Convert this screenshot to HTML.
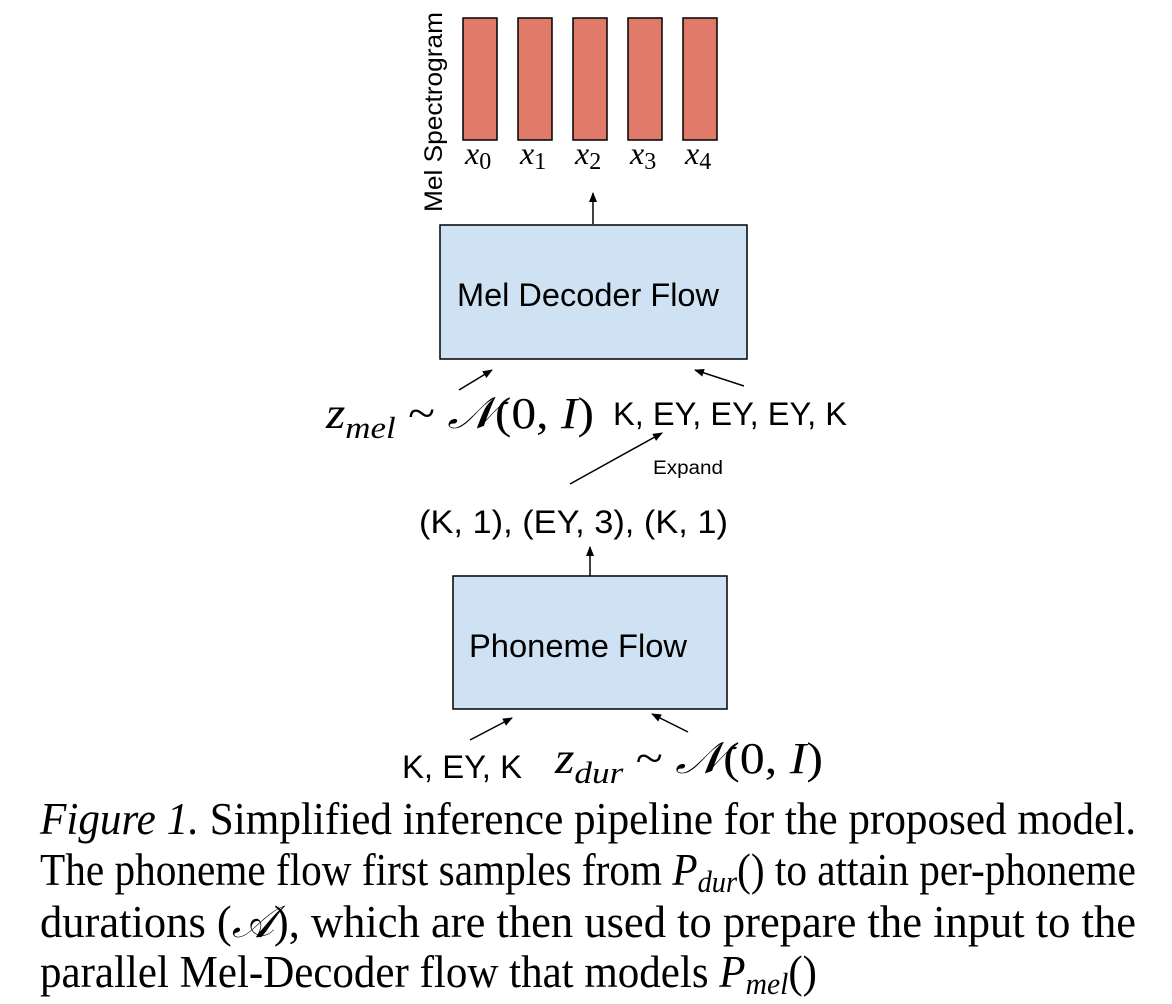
<!DOCTYPE html>
<html><head><meta charset="utf-8"><style>
html,body{margin:0;padding:0;background:#fff;}
svg{display:block;}
.sans{font-family:"Liberation Sans",sans-serif;fill:#000;}
.serif{font-family:"Liberation Serif",serif;fill:#000;}
.it{font-style:italic;}
</style></head><body>
<svg width="1172" height="1004" viewBox="0 0 1172 1004">
<defs><marker id="ah" markerWidth="10" markerHeight="8" refX="9" refY="4" orient="auto" markerUnits="userSpaceOnUse"><path d="M0,0 L10,4 L0,8 z" fill="#000"/></marker></defs>
<g id="bars"></g>
<text class="sans" font-size="25" textLength="200" lengthAdjust="spacingAndGlyphs" transform="translate(442,212) rotate(-90)">Mel Spectrogram</text>
<line x1="593" y1="224" x2="593" y2="193" stroke="#000" stroke-width="1.5" marker-end="url(#ah)"/>
<rect x="440" y="225" width="307" height="134" fill="#cfe2f3" stroke="#000" stroke-width="1.5"/>
<text class="sans" x="457" y="306" font-size="32" textLength="262" lengthAdjust="spacingAndGlyphs">Mel Decoder Flow</text>
<line x1="459" y1="390" x2="492" y2="370" stroke="#000" stroke-width="1.5" marker-end="url(#ah)"/>
<line x1="744" y1="386" x2="695" y2="370" stroke="#000" stroke-width="1.5" marker-end="url(#ah)"/>
<text class="serif" x="326" y="428" font-size="44" textLength="268" lengthAdjust="spacingAndGlyphs"><tspan class="it">z</tspan><tspan class="it" font-size="31" dy="10">mel</tspan><tspan dy="-10"> ~ </tspan><tspan class="it">𝒩</tspan>(0, <tspan class="it">I</tspan>)</text>
<text class="sans" x="613" y="425" font-size="32" textLength="234" lengthAdjust="spacingAndGlyphs">K, EY, EY, EY, K</text>
<line x1="570" y1="484" x2="662" y2="433" stroke="#000" stroke-width="1.5" marker-end="url(#ah)"/>
<text class="sans" x="653" y="474" font-size="19" textLength="70" lengthAdjust="spacingAndGlyphs">Expand</text>
<text class="sans" x="419" y="533" font-size="32" textLength="309" lengthAdjust="spacingAndGlyphs">(K, 1), (EY, 3), (K, 1)</text>
<line x1="590" y1="576" x2="590" y2="547" stroke="#000" stroke-width="1.5" marker-end="url(#ah)"/>
<rect x="453" y="576" width="274" height="133" fill="#cfe2f3" stroke="#000" stroke-width="1.5"/>
<text class="sans" x="469" y="657" font-size="32" textLength="218" lengthAdjust="spacingAndGlyphs">Phoneme Flow</text>
<line x1="470" y1="740" x2="512" y2="718" stroke="#000" stroke-width="1.5" marker-end="url(#ah)"/>
<line x1="688" y1="732" x2="652" y2="714" stroke="#000" stroke-width="1.5" marker-end="url(#ah)"/>
<text class="sans" x="402" y="778" font-size="32" textLength="120" lengthAdjust="spacingAndGlyphs">K, EY, K</text>
<text class="serif" x="555" y="773" font-size="44" textLength="268" lengthAdjust="spacingAndGlyphs"><tspan class="it">z</tspan><tspan class="it" font-size="31" dy="10">dur</tspan><tspan dy="-10"> ~ </tspan><tspan class="it">𝒩</tspan>(0, <tspan class="it">I</tspan>)</text>
<g class="serif" font-size="45">
<text x="40" y="834" textLength="1096" lengthAdjust="spacingAndGlyphs"><tspan class="it">Figure 1.</tspan> Simplified inference pipeline for the proposed model.</text>
<text x="40" y="885" textLength="1096" lengthAdjust="spacingAndGlyphs">The phoneme flow first samples from <tspan class="it">P</tspan><tspan class="it" font-size="31" dy="7">dur</tspan><tspan dy="-7">() to attain per-phoneme</tspan></text>
<text x="40" y="937" textLength="1096" lengthAdjust="spacingAndGlyphs">durations (<tspan class="it">𝒜</tspan>), which are then used to prepare the input to the</text>
<text x="40" y="987" textLength="777" lengthAdjust="spacingAndGlyphs">parallel Mel-Decoder flow that models <tspan class="it">P</tspan><tspan class="it" font-size="31" dy="7">mel</tspan><tspan dy="-7">()</tspan></text>
</g>
</svg>
<script>
const frames=['0','1','2','3','4'];
const g=document.getElementById('bars');
const ns='http://www.w3.org/2000/svg';
frames.forEach((f,i)=>{
  const x=463+i*55;
  const r=document.createElementNS(ns,'rect');
  r.setAttribute('x',x);r.setAttribute('y',18);r.setAttribute('width',34);r.setAttribute('height',122);
  r.setAttribute('fill','#e07b6a');r.setAttribute('stroke','#000');r.setAttribute('stroke-width','1.5');
  
  
  g.appendChild(r);
  const t=document.createElementNS(ns,'text');
  t.setAttribute('x',x+2);t.setAttribute('y',164);t.setAttribute('class','serif');t.setAttribute('font-size','32');
  t.innerHTML='<tspan class="it">x</tspan><tspan font-size="24" dy="5">'+f+'</tspan>';
  
  
  g.appendChild(t);
});
</script>
</body></html>
